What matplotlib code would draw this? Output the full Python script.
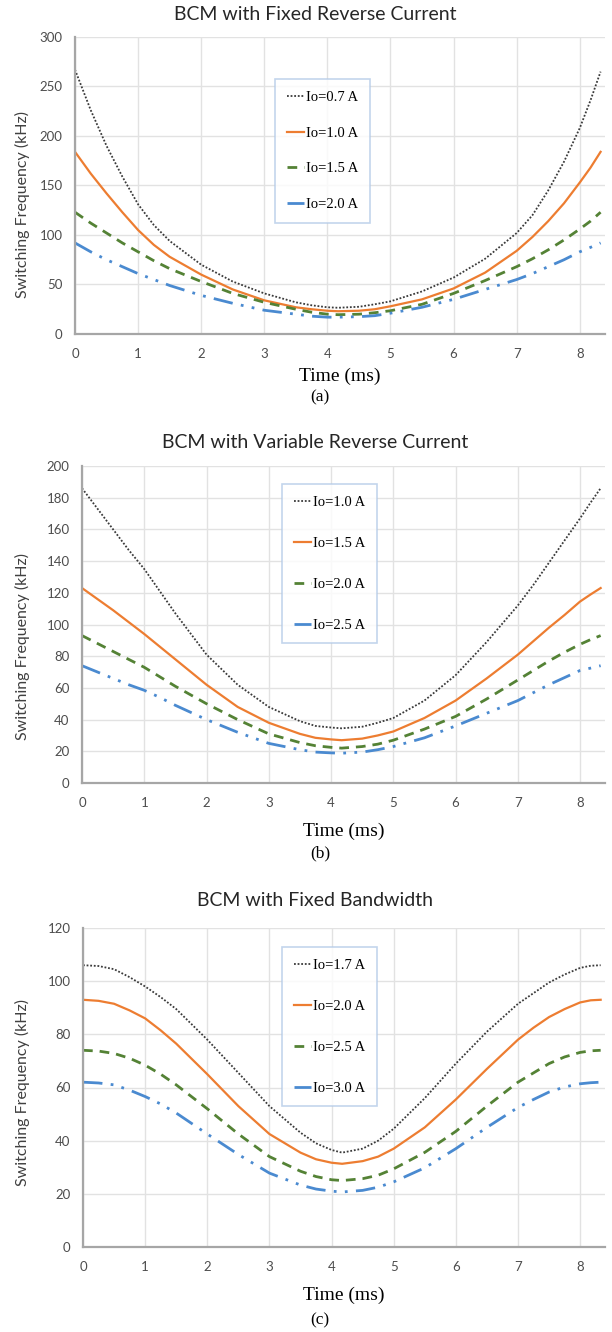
import matplotlib
matplotlib.use("Agg")
import matplotlib.pyplot as plt

# time axis (ms) shared by all panels
t = [0, 0.25, 0.5, 0.75, 1, 1.25, 1.5, 2, 2.5, 3, 3.5, 3.75, 4, 4.17,
     4.5, 4.75, 5, 5.5, 6, 6.5, 7, 7.25, 7.5, 7.75, 8, 8.17, 8.33]

# (a) BCM with fixed reverse current
titleA = "BCM with Fixed Reverse Current"
labelsA = ["Io=0.7 A", "Io=1.0 A", "Io=1.5 A", "Io=2.0 A"]
a07 = [267, 226, 190, 159, 131, 110, 94, 70, 53, 41, 32, 29, 27, 26.5,
       27.5, 30, 33, 43, 57, 76, 102, 120, 145, 174, 208, 236, 265]
a10 = [184, 162, 142, 123, 105, 90, 78, 60, 45, 34, 27, 25, 23.5, 23,
       23.5, 25, 28, 35, 46, 62, 84, 98, 114, 132, 153, 168, 184]
a15 = [123, 112, 102, 92, 83, 74, 66, 53, 41, 32, 25, 22, 20, 19.5,
       20, 21.5, 23.5, 30, 41, 54, 68, 76, 85, 95, 106, 114, 123]
a20 = [92, 83, 75, 68, 61, 55, 49, 39, 31, 24, 20, 18, 17, 17,
       17.5, 18.5, 21, 27, 35, 45, 55, 61, 68, 75, 83, 87.5, 92]

# (b) BCM with variable reverse current
titleB = "BCM with Variable Reverse Current"
labelsB = ["Io=1.0 A", "Io=1.5 A", "Io=2.0 A", "Io=2.5 A"]
b10 = [186, 173, 160, 147, 135, 121, 107, 81, 62, 48, 39, 36, 35, 34.5,
       35.5, 38, 41, 52, 68, 89, 112, 125, 139, 153, 167, 177, 186]
b15 = [123, 116, 109, 101.5, 94, 86, 78, 62, 48, 38, 31, 28.5, 27.5, 27,
       28, 30, 32.5, 41, 52, 66, 81, 89.5, 98, 106, 114.5, 119, 123]
b20 = [93, 88, 83, 78, 73, 67, 61, 50, 40, 31, 25.5, 23.5, 22.5, 22,
       23, 24.5, 27, 34, 42, 53, 65, 71, 77, 82.5, 87.5, 90.5, 93]
b25 = [74, 70, 66, 62, 58.5, 54, 49, 40, 32, 25, 21, 19.5, 19, 18.8,
       19.5, 21, 23, 28.5, 36, 44, 52, 57, 62, 66.5, 71, 72.5, 74]

# (c) BCM with fixed bandwidth
titleC = "BCM with Fixed Bandwidth"
labelsC = ["Io=1.7 A", "Io=2.0 A", "Io=2.5 A", "Io=3.0 A"]
c17 = [106, 105.7, 104.5, 101.5, 98, 94, 89.5, 78, 65.5, 53, 43, 39, 36.5, 35.5,
       37, 40, 44.5, 56, 69, 81, 91.5, 95.5, 99.5, 102.5, 105, 105.8, 106]
c20 = [93, 92.6, 91.5, 89, 86, 81.5, 76.5, 65, 53, 42.5, 35.5, 33, 31.7, 31.3,
       32.3, 34, 37, 45, 55.5, 67, 78, 82.5, 86.5, 89.5, 92, 92.8, 93]
c25 = [74, 73.7, 72.8, 71, 68.4, 65, 61, 52, 42.5, 34, 28.5, 26.5, 25.3, 25,
       25.7, 27, 29.4, 35.6, 43.5, 53, 62, 65.5, 69, 71.5, 73.2, 73.8, 74]
c30 = [62, 61.7, 61, 59, 56.6, 53.8, 50.4, 42.5, 34.8, 27.8, 23.3, 21.8, 21, 20.7,
       21.3, 22.5, 24.5, 29.8, 37, 45, 52.5, 55.5, 58.3, 60.2, 61.4, 61.8, 62]

W, H = 612, 1332
fig = plt.figure(figsize=(W / 100, H / 100), dpi=100)

colors = ["#3a3a3a", "#ED7D31", "#548235", "#4A8AD0"]
styles = [(0, (1, 1)), "-", (0, (3.5, 2.5)), (0, (7, 3, 1, 3, 1, 3))]
widths = [1.3, 1.6, 2.0, 2.0]

panels = [
    dict(title=titleA, labels=labelsA, data=[a07, a10, a15, a20], ymax=300, ystep=50,
         box=(75, 37, 605, 334), ty=15, yl_y=205, xl_y=376, cap_y=397, cap="(a)",
         leg=(275, 79), spacing=1.55),
    dict(title=titleB, labels=labelsB, data=[b10, b15, b20, b25], ymax=200, ystep=20,
         box=(82, 466, 605, 783), ty=442, yl_y=646, xl_y=831, cap_y=853, cap="(b)",
         leg=(282, 484), spacing=1.9),
    dict(title=titleC, labels=labelsC, data=[c17, c20, c25, c30], ymax=120, ystep=20,
         box=(83, 928, 605, 1247), ty=901, yl_y=1092, xl_y=1295, cap_y=1320, cap="(c)",
         leg=(282, 947), spacing=1.9),
]

for p in panels:
    l, top, r, bot = p["box"]
    ax = fig.add_axes([l / W, 1 - bot / H, (r - l) / W, (bot - top) / H])
    for i in range(4):
        ax.plot(t, p["data"][i], color=colors[i], linestyle=styles[i], lw=widths[i],
                label=p["labels"][i])
    ax.set_xlim(0, 8.4)
    ax.set_ylim(0, p["ymax"])
    ax.set_xticks(range(0, 9))
    ax.set_yticks(range(0, p["ymax"] + 1, p["ystep"]))
    ax.grid(True, color="#e2e2e2", lw=1)
    ax.set_axisbelow(True)
    for s in ["top", "right"]:
        ax.spines[s].set_visible(False)
    for s in ["left", "bottom"]:
        ax.spines[s].set_color("#a6a6a6")
        ax.spines[s].set_linewidth(1.6)
    ax.tick_params(length=0, labelsize=9.5, labelcolor="#4d4d4d")
    ax.tick_params(axis="x", pad=10)
    ax.tick_params(axis="y", pad=9)
    for lab in ax.get_xticklabels() + ax.get_yticklabels():
        lab.set_family("Lato")

    fig.text(315 / W, 1 - p["ty"] / H, p["title"], ha="center", va="center",
             fontsize=14, family="Lato", color="#262626")
    fig.text(22 / W, 1 - p["yl_y"] / H, "Switching Frequency (kHz)", rotation=90,
             ha="center", va="center", fontsize=11.5, family="Lato", color="#404040")
    fig.text((l + 605) / 2 / W, 1 - p["xl_y"] / H, "Time (ms)", ha="center", va="center",
             fontsize=14, family="Liberation Serif")
    fig.text(320 / W, 1 - p["cap_y"] / H, p["cap"], ha="center", va="center",
             fontsize=12.5, family="Liberation Serif")

    lx, ly = p["leg"]
    leg = ax.legend(loc="upper left", bbox_to_anchor=(lx / W, 1 - ly / H),
                    bbox_transform=fig.transFigure, frameon=True, fancybox=False,
                    prop={"family": "Liberation Serif", "size": 10.5},
                    handlelength=1.2, handletextpad=0.1, borderpad=0.8,
                    labelspacing=p["spacing"], borderaxespad=0)
    leg.get_frame().set_edgecolor("#b4cbe8")
    leg.get_frame().set_linewidth(1.2)

fig.savefig("out.png", dpi=100)
